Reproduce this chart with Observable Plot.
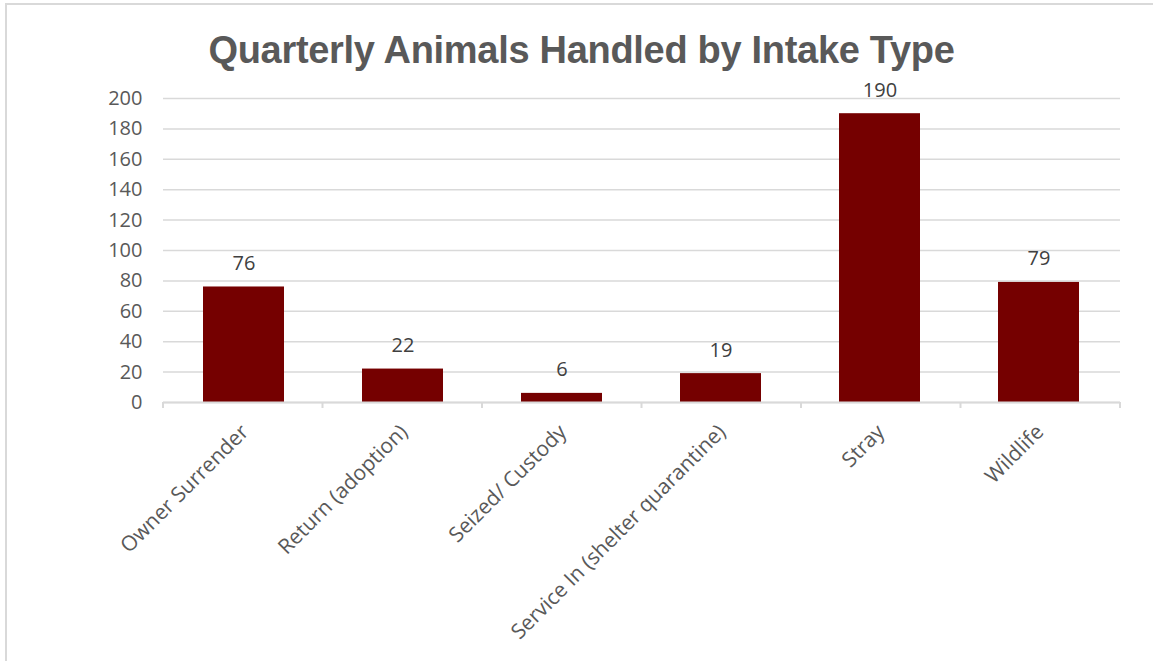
<!DOCTYPE html>
<html>
<head>
<meta charset="utf-8">
<script src="https://cdn.jsdelivr.net/npm/d3@7"></script>
<script src="https://cdn.jsdelivr.net/npm/@observablehq/plot@0.6"></script>
<style>
  html, body { margin: 0; padding: 0; background: #fff; }
  #wrap { position: relative; width: 1153px; height: 661px; overflow: hidden; }
  #frame { position: absolute; left: 5px; top: 3px; right: -4px; bottom: -4px;
           border-left: 2px solid #d9d9d9; border-top: 2px solid #d9d9d9; }
  #title { position: absolute; left: 0; width: 1163px; top: 27px; text-align: center;
           font-family: "Liberation Sans Narrow", "Liberation Sans", sans-serif; font-weight: bold;
           font-size: 38px; letter-spacing: -0.3px; color: #595959; line-height: 46px; white-space: nowrap; }
  #chart { position: absolute; left: 0; top: 0; }
</style>
</head>
<body>
<div id="wrap">
  <div id="frame"></div>
  <div id="chart"></div>
  <div id="title">Quarterly Animals Handled by Intake Type</div>
</div>
<script>
const categories = ["Owner Surrender", "Return (adoption)", "Seized/ Custody", "Service In (shelter quarantine)", "Stray", "Wildlife"];
const counts = [76, 22, 6, 19, 190, 79];
const yTicks = [0, 20, 40, 60, 80, 100, 120, 140, 160, 180, 200];

const data = categories.map((c, i) => ({category: c, count: counts[i]}));

const boundaryTicks = (index, scales, values, dims) => {
  const g = d3.create("svg:g").attr("stroke", "#d9d9d9").attr("stroke-width", 2);
  const x0 = dims.marginLeft, x1 = dims.width - dims.marginRight;
  const y0 = dims.height - dims.marginBottom;
  const n = categories.length;
  for (let i = 0; i <= n; i++) {
    const x = x0 + (x1 - x0) * i / n;
    g.append("line").attr("x1", x).attr("x2", x).attr("y1", y0).attr("y2", y0 + 6);
  }
  return g.node();
};

const chart = Plot.plot({
  width: 1153,
  height: 661,
  marginTop: 98,
  marginBottom: 259,
  marginLeft: 163,
  marginRight: 33,
  style: {fontFamily: "'Open Sans', sans-serif", background: "transparent", overflow: "visible"},
  x: {domain: categories, paddingInner: 0.488, paddingOuter: 0.244, label: null},
  y: {domain: [0, 200], label: null},
  marks: [
    Plot.gridY(yTicks, {stroke: "#d9d9d9", strokeOpacity: 1, strokeWidth: 1.5}),
    Plot.axisY(yTicks, {tickSize: 0, tickPadding: 21, fontSize: 20, fill: "#595959", label: null}),
    Plot.barY(data, {x: "category", y: "count", fill: "#750000", style: "filter: drop-shadow(0px 0px 2px rgba(0,0,0,0.35))"}),
    Plot.ruleY([0], {stroke: "#d9d9d9", strokeWidth: 2}),
    boundaryTicks,
    Plot.text(data, {x: "category", y: "count", text: d => String(d.count), dy: -17, lineAnchor: "bottom", fontSize: 20, fill: "#404040"}),
    Plot.axisX({tickSize: 0, tickRotate: -45, tickPadding: 20, dx: 1, dy: 6, fontSize: 21, fill: "#595959", label: null})
  ]
});
document.getElementById("chart").appendChild(chart);
</script>
</body>
</html>
